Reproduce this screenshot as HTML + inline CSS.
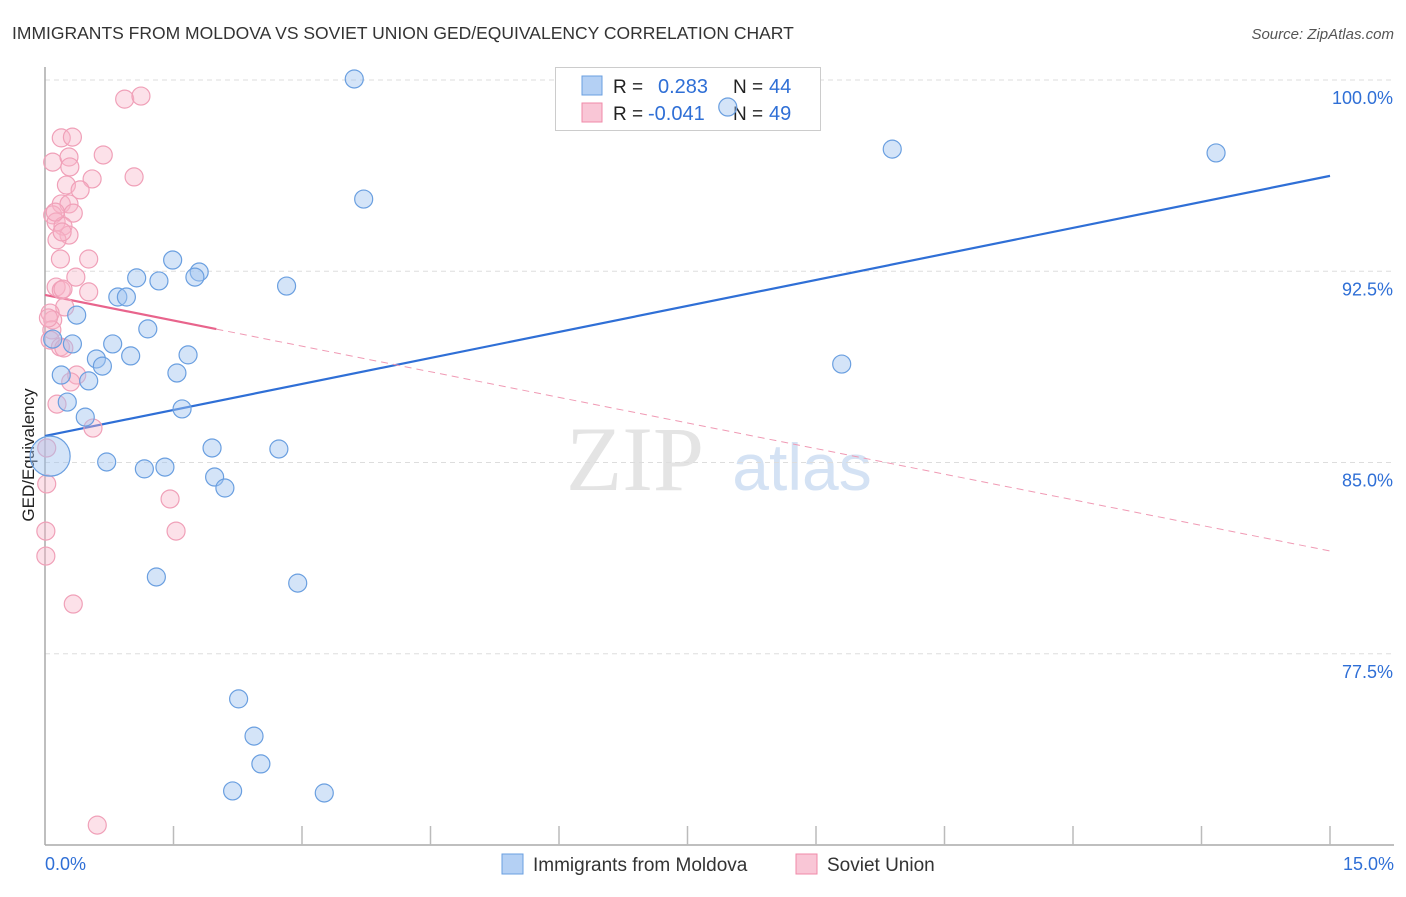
<!DOCTYPE html>
<html><head><meta charset="utf-8"><style>
body{margin:0;background:#fff;font-family:"Liberation Sans",sans-serif;}
svg text{font-family:"Liberation Sans",sans-serif;}
</style></head><body>
<svg id="chart" width="1406" height="892" xmlns="http://www.w3.org/2000/svg">
<text x="12" y="39" font-size="17.5" fill="#333">IMMIGRANTS FROM MOLDOVA VS SOVIET UNION GED/EQUIVALENCY CORRELATION CHART</text>
<text x="1394" y="39" font-size="15" fill="#555" text-anchor="end" font-style="italic">Source: ZipAtlas.com</text>
<g>
<text x="635" y="490" font-size="92" fill="#e4e4e4" text-anchor="middle" font-family="Liberation Serif" style="font-family:'Liberation Serif',serif">ZIP</text>
<text x="802" y="490" font-size="66" fill="#d4e2f4" text-anchor="middle">atlas</text>
</g>
<g id="grid"></g>
<g id="axes"></g>
<g id="lines"></g>
<text transform="translate(34,455) rotate(-90)" font-size="17" fill="#222" text-anchor="middle">GED/Equivalency</text>
<g>
<rect x="555.5" y="67.5" width="265" height="63" fill="#fff" stroke="#ccc"/>
<rect x="582" y="76" width="20" height="19" fill="#b4d0f4" stroke="#6a9fe0"/>
<rect x="582" y="103" width="20" height="19" fill="#f9c6d6" stroke="#f08aa8"/>
<text x="613" y="93" font-size="19" fill="#222">R =</text><text x="658" y="93" font-size="20" fill="#2f6fd6">0.283</text>
<text x="733" y="93" font-size="19" fill="#222">N =</text><text x="769" y="93" font-size="20" fill="#2f6fd6">44</text>
<text x="613" y="120" font-size="19" fill="#222">R =</text><text x="648" y="120" font-size="20" fill="#2f6fd6">-0.041</text>
<text x="733" y="120" font-size="19" fill="#222">N =</text><text x="769" y="120" font-size="20" fill="#2f6fd6">49</text>
</g>
<g id="points"></g>
<g>
<rect x="502" y="854" width="21" height="20" fill="#b4d0f4" stroke="#6a9fe0"/>
<text x="533" y="871" font-size="19" fill="#333">Immigrants from Moldova</text>
<rect x="796" y="854" width="21" height="20" fill="#f9c6d6" stroke="#f08aa8"/>
<text x="827" y="871" font-size="19" fill="#333">Soviet Union</text>
</g>
</svg>
<script>
const yTicks=[100,92.5,85,77.5];
const yTickLabels=["100.0%","92.5%","85.0%","77.5%"];
const xTickLabels=["0.0%","15.0%"];
const moldovaX=[3.61,7.97,9.89,13.67,3.72,1.49,1.07,1.33,1.80,1.75,2.82,0.85,0.95,0.37,1.20,0.32,0.79,0.60,0.67,1.00,1.67,9.30,0.19,0.51,1.54,0.26,0.47,1.60,1.95,2.73,0.72,1.16,1.40,1.98,2.10,1.30,2.95,2.26,2.44,2.52,2.19,3.26,0.06,0.09];
const moldovaY=[100.04,98.94,97.29,97.14,95.33,92.94,92.24,92.12,92.47,92.27,91.92,91.49,91.49,90.78,90.24,89.65,89.65,89.06,88.78,89.18,89.22,88.86,88.43,88.20,88.51,87.37,86.78,87.10,85.57,85.53,85.02,84.75,84.82,84.43,84.00,80.51,80.27,75.73,74.27,73.18,72.12,72.04,85.25,89.84];
const sovietX=[0.93,1.12,0.19,0.32,0.09,0.28,0.68,0.29,1.04,0.55,0.25,0.41,0.19,0.28,0.33,0.09,0.13,0.21,0.28,0.14,0.51,0.18,0.36,0.13,0.19,0.21,0.51,0.23,0.06,0.09,0.08,0.06,0.18,0.22,0.37,0.30,0.14,0.56,0.02,0.02,0.01,0.01,1.46,1.53,0.33,0.61,0.12,0.04,0.20];
const sovietY=[99.25,99.37,97.73,97.76,96.78,96.98,97.06,96.59,96.20,96.12,95.88,95.69,95.14,95.14,94.78,94.71,94.43,94.27,93.92,93.73,92.98,92.98,92.27,91.88,91.76,91.80,91.69,91.10,90.86,90.59,90.20,89.80,89.53,89.49,88.43,88.16,87.29,86.35,85.57,84.16,82.31,81.33,83.57,82.31,79.45,70.78,94.82,90.67,94.04];
const moldovaTrend=[86.04,96.24];
const sovietTrend=[91.57,81.53];
const sovietSolidEnd=2.0;

const NS="http://www.w3.org/2000/svg";
const X0=45,X1=1330,Y100=80,PX=25.5;
function xs(p){return X0+p*(X1-X0)/15;}
function ys(v){return Y100+(100-v)*PX;}
function mk(tag,attrs,parent){const e=document.createElementNS(NS,tag);for(const k in attrs)e.setAttribute(k,attrs[k]);document.getElementById(parent).appendChild(e);return e;}

yTicks.forEach((t,i)=>{
  const g=mk('line',{x1:X0,x2:1394,y1:ys(t),y2:ys(t),stroke:'#ddd','stroke-dasharray':'5,4'},'grid');
  
  
  const l=mk('text',{x:1393,y:ys(t)+24,'font-size':18,fill:'#2f6fd6','text-anchor':'end'},'axes');
  l.textContent=yTickLabels[i];
  
  
});
const ya=mk('line',{x1:X0,x2:X0,y1:67,y2:845,stroke:'#aaa','stroke-width':1.5},'axes');


const xa=mk('line',{x1:X0,x2:1394,y1:845,y2:845,stroke:'#aaa','stroke-width':1.5},'axes');


for(let i=1;i<=10;i++){
  const t=mk('line',{x1:xs(i*1.5),x2:xs(i*1.5),y1:826,y2:845,stroke:'#bbb','stroke-width':1.5},'axes');
  
  
}
[[0,'start',45],[15,'end',1394]].forEach((d,i)=>{
  const l=mk('text',{x:d[2],y:870,'font-size':18,fill:'#2f6fd6','text-anchor':d[1]},'axes');
  l.textContent=xTickLabels[i];
  
  
});

sovietX.forEach((p,i)=>{
  const c=mk('circle',{cx:xs(p),cy:ys(sovietY[i]),r:9,fill:'rgba(248,180,200,0.4)',stroke:'#f0a0b8','stroke-width':1.2},'points');
  
  
});
moldovaX.forEach((p,i)=>{
  const r=(i===42)?20:9;
  const c=mk('circle',{cx:xs(p),cy:ys(moldovaY[i]),r:r,fill:'rgba(160,196,240,0.45)',stroke:'#6a9fe0','stroke-width':1.2},'points');
  
  
});

const bl=mk('line',{x1:xs(0),y1:ys(moldovaTrend[0]),x2:xs(15),y2:ys(moldovaTrend[1]),stroke:'#2f6fd6','stroke-width':2.2},'lines');


const sv=v=>sovietTrend[0]+(sovietTrend[1]-sovietTrend[0])*v/15;
const pl=mk('line',{x1:xs(0),y1:ys(sovietTrend[0]),x2:xs(sovietSolidEnd),y2:ys(sv(sovietSolidEnd)),stroke:'#e8648c','stroke-width':2.2},'lines');


const pd=mk('line',{x1:xs(sovietSolidEnd),y1:ys(sv(sovietSolidEnd)),x2:xs(15),y2:ys(sovietTrend[1]),stroke:'#f09ab4','stroke-width':1,'stroke-dasharray':'7,5'},'lines');


</script>
</body></html>
